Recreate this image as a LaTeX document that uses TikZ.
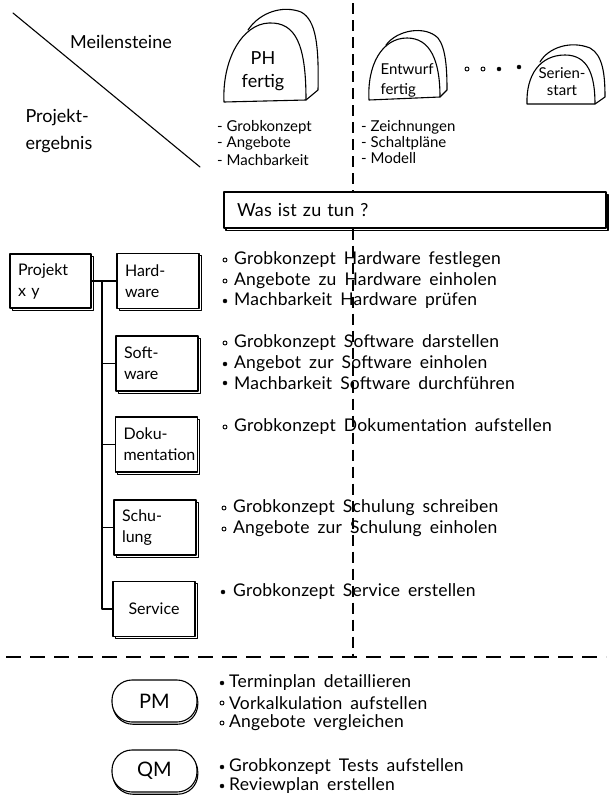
\documentclass[tikz,border=0pt]{standalone}
\usepackage{fontspec}
\setmainfont{Lato}
\newfontfamily\wide[LetterSpace=1.3, WordSpace=1.7]{Lato}
\usetikzlibrary{shapes.geometric,shadows}
\begin{document}
\begin{tikzpicture}[x=1pt,y=-1pt,
  ln/.style={line width=1.1pt, line join=round, line cap=round},
  wbs/.style={ln, draw, fill=white, minimum width=82pt, minimum height=55pt,
    inner xsep=8pt, inner ysep=2pt, text width=66pt, align=left,
    font=\fontsize{16}{21}\selectfont,
    copy shadow={shadow xshift=2.2pt, shadow yshift=-2.2pt}},
  lst/.style={anchor=west, inner sep=0pt, font=\wide\fontsize{17.5}{20}\selectfont},
  sml/.style={anchor=west, inner sep=0pt, font=\fontsize{15}{17}\selectfont},
  bo/.style={line width=0.9pt, draw, fill=white},
  bf/.style={fill=black},
  vdash/.style={ln, line cap=butt, dash pattern=on 11pt off 6pt},
  hdash/.style={ln, line cap=butt, dash pattern=on 15pt off 9pt},
  stone/.style={ln, draw, fill=white},
  pill/.style={ln, draw, rectangle, rounded corners=20pt, fill=white,
    minimum width=85pt, minimum height=42pt,
    font=\fontsize{20}{22}\selectfont,
    copy shadow={shadow xshift=0.8pt, shadow yshift=-2.2pt}}
]
\useasboundingbox (0,0) rectangle (608,798);

% header
\coordinate (d1) at (13,13);
\coordinate (d2) at (200,167);
\draw[ln] (d1) -- (d2);
\node[font=\fontsize{18}{20}\selectfont] (meil) at (121,42) {Meilensteine};
\node[anchor=west, align=left, font=\fontsize{18}{27}\selectfont] (pe) at (22,131) {Projekt-\\ergebnis};

% vertical dashed line
\coordinate (vtop) at (353,3);
\coordinate (vbot) at (353,657);

% milestones
\draw[ln] (248,30) .. controls (260,12) and (283,5) .. (301,12)
          .. controls (316,20) and (319,45) .. (318,90) -- (306,100);
\draw[stone] (224,102) .. controls (222,60) and (242,24) .. (269,23)
          .. controls (296,22) and (306,45) .. (306,100) -- cycle;
\node[align=center, font=\fontsize{18}{23}\selectfont] (phl) at (263,71) {PH\\fertig};

\draw[ln] (386,45) .. controls (397,30) and (425,25) .. (438,38)
          .. controls (446,48) and (447,70) .. (447,90) -- (440,97);
\draw[stone] (369,100) .. controls (367,65) and (382,38) .. (407,38)
          .. controls (430,38) and (440,60) .. (440,97) -- cycle;
\node[anchor=west, align=left, font=\fontsize{15}{20}\selectfont] (ewl) at (377,80) {Entwurf\\fertig};

\draw[ln] (540,62) .. controls (548,48) and (570,40) .. (590,48)
          .. controls (603,55) and (605,75) .. (605,97) -- (595,104);
\draw[stone] (527,104) .. controls (526,75) and (540,55) .. (565,55)
          .. controls (588,55) and (595,75) .. (595,104) -- cycle;
\node[align=center, font=\fontsize{15}{17}\selectfont] (ssl) at (562,82) {Serien-\\start};

\draw[bo] (467,69) circle[radius=2pt];
\draw[bo] (483,69) circle[radius=2pt];
\draw[bf] (499,69) circle[radius=2pt];
\draw[bf] (519,67) circle[radius=2pt];

\node[sml] (ph1) at (217,127) {- Grobkonzept};
\node[sml] (ph2) at (217,143) {- Angebote};
\node[sml] (ph3) at (217,160) {- Machbarkeit};
\node[sml] (ew1) at (361,127) {- Zeichnungen};
\node[sml] (ew2) at (361,143) {- Schaltpläne};
\node[sml] (ew3) at (361,158) {- Modell};

% Was ist zu tun
\node[ln, draw, fill=white, minimum width=382pt, minimum height=36pt, text width=356pt,
  inner xsep=13pt, align=left, font=\wide\fontsize{18}{20}\selectfont,
  copy shadow={shadow xshift=2pt, shadow yshift=-2.4pt}] (was) at (415,210) {Was ist zu tun ?};

\draw[vdash] (vtop) -- (vtop |- was.north);
\draw[vdash] (was.south -| vtop) -- (vbot);

% tree
\node[wbs, minimum width=81pt, minimum height=54pt, text width=65pt] (proj) at (50.5,281) {Projekt\\x y};
\node[wbs] (hw) at (158,281) {Hard-\\ware};
\node[wbs] (sw) at (157,363.5) {Soft-\\ware};
\node[wbs] (dok) at (156.5,444.5) {Doku-\\mentation};
\node[wbs] (sch) at (155,527.5) {Schu-\\lung};
\node[wbs, align=center] (svc) at (154,609) {Service};

\coordinate (tr) at (102,281);
\draw[ln] (proj.east) -- (hw.west);
\draw[ln] (tr) |- (svc.west);
\draw[ln] (tr |- sw.west) -- (sw.west);
\draw[ln] (tr |- dok.west) -- (dok.west);
\draw[ln] (tr |- sch.west) -- (sch.west);

% lists
\draw[bo] (225,260) circle[radius=2pt];
\draw[bo] (225,281) circle[radius=2pt];
\draw[bf] (225,301) circle[radius=2pt];
\node[lst] (h1) at (234,260) {Grobkonzept Hardware festlegen};
\node[lst] (h2) at (234,281) {Angebote zu Hardware einholen};
\node[lst] (h3) at (234,301) {Machbarkeit Hardware prüfen};

\draw[bo] (225,343) circle[radius=2pt];
\draw[bf] (225,364) circle[radius=2pt];
\draw[bf] (225,383) circle[radius=2pt];
\node[lst] (s1) at (234,343) {Grobkonzept Software darstellen};
\node[lst] (s2) at (234,364) {Angebot zur Software einholen};
\node[lst] (s3) at (234,383) {Machbarkeit Software durchführen};

\draw[bo] (225,427) circle[radius=2pt];
\node[lst] (k1) at (234,427) {Grobkonzept Dokumentation aufstellen};

\draw[bo] (224,508) circle[radius=2pt];
\draw[bo] (224,529) circle[radius=2pt];
\node[lst] (c1) at (233,508) {Grobkonzept Schulung schreiben};
\node[lst] (c2) at (233,529) {Angebote zur Schulung einholen};

\draw[bf] (223,592) circle[radius=2pt];
\node[lst] (v1) at (233,592) {Grobkonzept Service erstellen};

% bottom
\coordinate (hl) at (6,657);
\coordinate (hr) at (606,657);
\draw[hdash] (hl) -- (hr);

\node[pill] (pm) at (154.5,701) {PM};
\node[pill] (qm) at (154.5,771) {QM};

\draw[bf] (222,683) circle[radius=2pt];
\draw[bo] (222,703) circle[radius=2pt];
\draw[bo] (222,723) circle[radius=2pt];
\node[lst] (p1) at (229,683) {Terminplan detaillieren};
\node[lst] (p2) at (229,703) {Vorkalkulation aufstellen};
\node[lst] (p3) at (229,723) {Angebote vergleichen};

\draw[bf] (222,767) circle[radius=2pt];
\draw[bf] (222,786) circle[radius=2pt];
\node[lst] (q1) at (229,767) {Grobkonzept Tests aufstellen};
\node[lst] (q2) at (229,786) {Reviewplan erstellen};
\end{tikzpicture}
\end{document}
